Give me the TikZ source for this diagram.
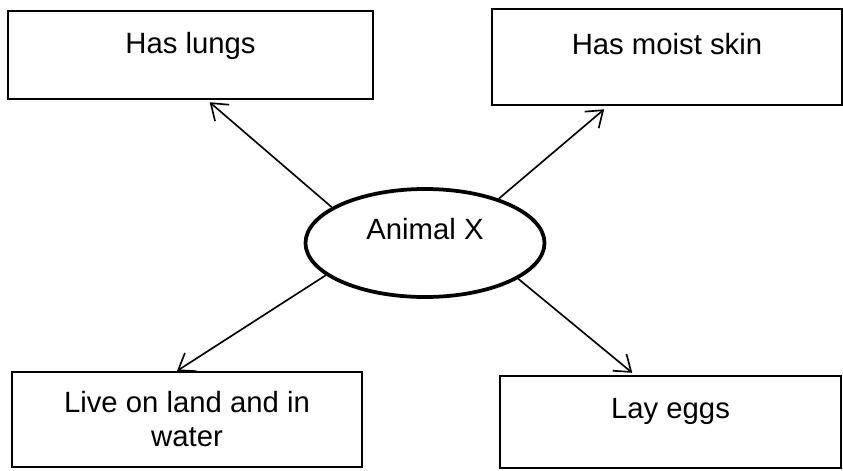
\documentclass[tikz,border=0pt]{standalone}
\usepackage{fontspec}
\setmainfont{Liberation Sans}
\usepackage{tikz}
\usetikzlibrary{arrows.meta,shapes.geometric}
\tikzset{
  fact/.style={
    draw=black, line width=1.8pt, align=center, inner sep=0pt,
    font=\fontsize{25}{29}\selectfont
  },
  oneln/.style={fact, text height=0.75em, text depth=1.1em},
  core/.style={
    ellipse, draw=black, line width=3.2pt, inner sep=0pt,
    minimum width=7.17cm, minimum height=3.24cm,
    text height=0.75em, text depth=1.3em,
    font=\fontsize{25}{29}\selectfont
  },
  arr/.style={-{Straight Barb[length=4.5mm,width=6.5mm]}, line width=1.4pt}
}
\begin{document}
\begin{tikzpicture}[x=0.03cm, y=-0.03cm]
  \useasboundingbox (0,0) rectangle (843,470);
  \node[oneln, minimum width=10.95cm, minimum height=2.64cm, text depth=0.95em] (lungs) at (190.5,55) {Has lungs};
  \node[oneln, minimum width=10.5cm, minimum height=2.88cm] (skin) at (667,57) {Has moist skin};
  \node[fact, minimum width=10.5cm, minimum height=2.85cm] (land) at (187,419.5) {Live on land and in\\water};
  \node[oneln, minimum width=10.23cm, minimum height=2.76cm, text depth=1.3em] (eggs) at (670.5,422) {Lay eggs};
  \node[core] (animal) at (425,243) {Animal X};
  \draw[arr, shorten >=1mm] (animal.159) -- ([xshift=5mm]lungs.south);
  \draw[arr, shorten >=1.5mm] (animal.31) -- ([xshift=-17.7mm]skin.south);
  \draw[arr] (animal.198) -- ([xshift=-3mm]land.north);
  \draw[arr, shorten >=1mm] (animal.-21) -- ([xshift=-10.7mm]eggs.north);
\end{tikzpicture}
\end{document}
